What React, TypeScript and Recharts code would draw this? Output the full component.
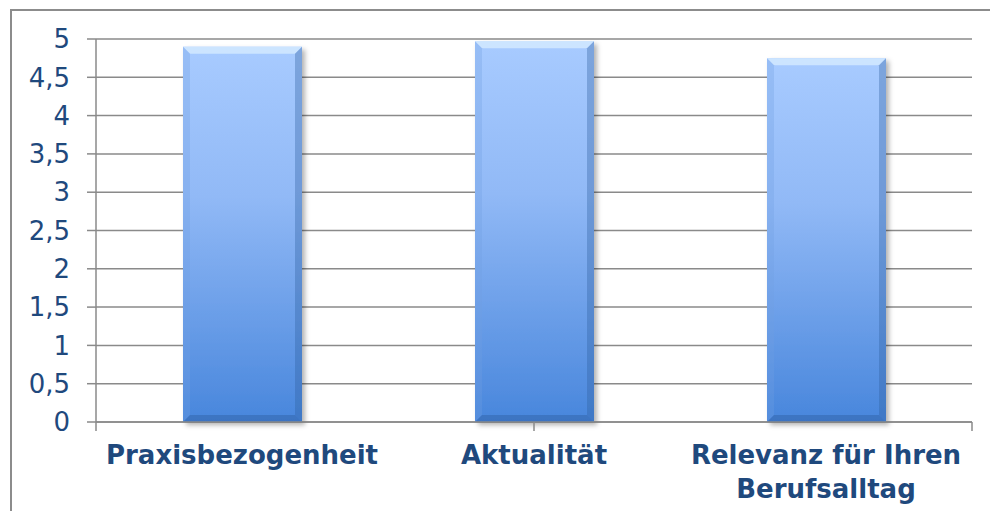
import { BarChart, Bar, XAxis, YAxis, CartesianGrid } from 'recharts';

const categories = ['Praxisbezogenheit', 'Aktualität', 'Relevanz für Ihren\nBerufsalltag'];
const scores = [4.9, 4.97, 4.75];
const yTicks = [0, 0.5, 1, 1.5, 2, 2.5, 3, 3.5, 4, 4.5, 5];
const boundaryTicks = [0, 1, 2, 3];

const data = categories.map((name, i) => ({ name, score: scores[i] }));

const labelColor = '#1F497D';
const gridColor = '#8a8a8a';
const font = '"DejaVu Sans", Verdana, sans-serif';

function BevelBar(props: any) {
  const { x, y, width, height } = props;
  if (!height || height <= 0) return null;
  const b = 7;
  return (
    <g filter="url(#barShadow)">
      <rect x={x} y={y} width={width} height={height} fill="url(#barFill)" />
      {/* top bevel */}
      <polygon
        points={`${x},${y} ${x + width},${y} ${x + width - b},${y + b} ${x + b},${y + b}`}
        fill="#dcefff"
        opacity={0.7}
      />
      {/* left / right edges */}
      <polygon
        points={`${x},${y} ${x + b},${y + b} ${x + b},${y + height - b} ${x},${y + height}`}
        fill="#6f9fe0"
        opacity={0.3}
      />
      <polygon
        points={`${x + width},${y} ${x + width - b},${y + b} ${x + width - b},${y + height - b} ${x + width},${y + height}`}
        fill="#2f5f9f"
        opacity={0.35}
      />
      {/* bottom bevel */}
      <polygon
        points={`${x},${y + height} ${x + b},${y + height - b} ${x + width - b},${y + height - b} ${x + width},${y + height}`}
        fill="#3368b0"
        opacity={0.6}
      />
    </g>
  );
}

function CategoryTick(props: any) {
  const { x, y, payload } = props;
  const lines = String(payload.value).split('\n');
  return (
    <text
      x={x}
      y={y + 33}
      textAnchor="middle"
      fill={labelColor}
      style={{ fontFamily: font, fontSize: 26, fontWeight: 'bold' }}
    >
      {lines.map((line, i) => (
        <tspan key={i} x={x} dy={i === 0 ? 0 : 34}>
          {line}
        </tspan>
      ))}
    </text>
  );
}

export default function App() {
  return (
    <div
      style={{
        position: 'relative',
        width: 990,
        height: 503,
        overflow: 'hidden',
        fontFamily: font,
      }}
    >
      <div
        style={{
          position: 'absolute',
          left: 2,
          top: 1,
          width: 1100,
          height: 600,
          border: '2px solid #8c8c8c',
          boxSizing: 'border-box',
        }}
      />
      <BarChart
        width={990}
        height={503}
        data={data}
        margin={{ top: 31, right: 26, bottom: 0, left: 0 }}
        style={{ position: 'absolute', left: 0, top: 0 }}
      >
        <defs>
          <linearGradient id="barFill" x1="0" y1="0" x2="0" y2="1">
            <stop offset="0%" stopColor="#a8cbff" />
            <stop offset="40%" stopColor="#91b9f6" />
            <stop offset="100%" stopColor="#4886dc" />
          </linearGradient>
          <filter id="barShadow" x="-10%" y="-5%" width="125%" height="115%">
            <feDropShadow dx="3" dy="3" stdDeviation="2.5" floodColor="#000" floodOpacity="0.3" />
          </filter>
        </defs>
        <CartesianGrid vertical={false} stroke={gridColor} strokeWidth={1.5} />
        <XAxis
          xAxisId="bounds"
          type="number"
          domain={[0, 3]}
          ticks={boundaryTicks}
          allowDataOverflow
          height={1}
          tickSize={9}
          tickFormatter={() => ''}
          axisLine={{ stroke: gridColor, strokeWidth: 1.5 }}
          tickLine={{ stroke: gridColor, strokeWidth: 1.5 }}
        />
        <XAxis
          xAxisId="cat"
          dataKey="name"
          height={88}
          axisLine={false}
          tickLine={false}
          interval={0}
          tick={<CategoryTick />}
        />
        <YAxis
          domain={[0, 5]}
          ticks={yTicks}
          width={88}
          tickSize={9}
          tickMargin={17}
          interval={0}
          tickFormatter={(v: number) => String(v).replace('.', ',')}
          axisLine={{ stroke: gridColor, strokeWidth: 1.5 }}
          tickLine={{ stroke: gridColor, strokeWidth: 1.5 }}
          tick={{ fill: labelColor, fontSize: 26, fontFamily: font }}
        />
        <Bar
          xAxisId="cat"
          dataKey="score"
          barSize={119}
          shape={<BevelBar />}
          isAnimationActive={false}
        />
      </BarChart>
    </div>
  );
}
